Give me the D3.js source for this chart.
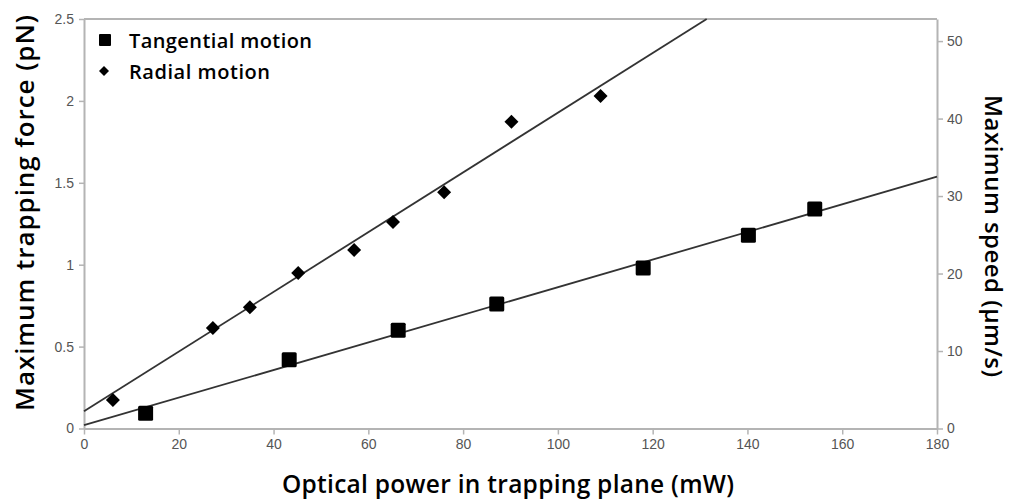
<!DOCTYPE html>
<html>
<head>
<meta charset="utf-8">
<script src="https://cdn.jsdelivr.net/npm/d3@7"></script>
<style>
  body { margin: 0; background: #fff; }
  svg { display: block; }
</style>
</head>
<body>
<div id="chart"></div>
<script>
// data
var xTicks = [0, 20, 40, 60, 80, 100, 120, 140, 160, 180];
var yTicks = [0, 0.5, 1, 1.5, 2, 2.5];
var y2Ticks = [0, 10, 20, 30, 40, 50];

var tangPower = [13, 43.3, 66.3, 87.1, 118, 140.2, 154.2];
var tangForce = [0.093, 0.42, 0.60, 0.76, 0.98, 1.18, 1.34];

var radPower = [6.1, 27.2, 35, 45.2, 57, 65.2, 76, 90.2, 109];
var radForce = [0.174, 0.613, 0.74, 0.95, 1.09, 1.26, 1.443, 1.873, 2.03];

// fitted lines, end points [power, force]
var tangFit = [[0, 0.02], [180, 1.537]];
var radFit = [[0, 0.105], [131.4, 2.5]];

var width = 1011, height = 499;
var mLeft = 84, mRight = 937, mTop = 19, mBottom = 428.5;
var axisColor = "#b4b4b4";
var tickColor = "#555";

var svg = d3.select("#chart").append("svg")
  .attr("width", width)
  .attr("height", height);

var x = d3.scaleLinear().domain([0, 180]).range([mLeft, mRight]);
var y = d3.scaleLinear().domain([0, 2.5]).range([mBottom, mTop]);
var y2 = d3.scaleLinear().domain([0, 52.85]).range([mBottom, mTop]);

// frame: top line
svg.append("line")
  .attr("x1", mLeft).attr("x2", mRight)
  .attr("y1", mTop).attr("y2", mTop)
  .attr("stroke", axisColor).attr("stroke-width", 2);

function styleAxis(g) {
  g.select(".domain").attr("stroke", axisColor).attr("stroke-width", 2);
  g.selectAll(".tick line").attr("stroke", axisColor).attr("stroke-width", 1.5);
  g.selectAll(".tick text")
    .attr("fill", tickColor)
    .style("font-family", "'Liberation Sans', Arial, sans-serif")
    .style("font-size", "14px");
}

svg.append("g")
  .attr("transform", "translate(0," + mBottom + ")")
  .call(d3.axisBottom(x).tickValues(xTicks).tickSize(6).tickSizeOuter(0).tickPadding(5))
  .call(styleAxis);

svg.append("g")
  .attr("transform", "translate(" + mLeft + ",0)")
  .call(d3.axisLeft(y).tickValues(yTicks).tickSize(5).tickSizeOuter(0).tickPadding(5)
    .tickFormat(d3.format("")))
  .call(styleAxis);

svg.append("g")
  .attr("transform", "translate(" + mRight + ",0)")
  .call(d3.axisRight(y2).tickValues(y2Ticks).tickSize(6).tickSizeOuter(0).tickPadding(4))
  .call(styleAxis);

// fit lines
var line = d3.line().x(d => x(d[0])).y(d => y(d[1]));
[tangFit, radFit].forEach(function(f) {
  svg.append("path")
    .attr("d", line(f))
    .attr("fill", "none")
    .attr("stroke", "#333")
    .attr("stroke-width", 1.8);
});

// points
var sq = 15;
svg.append("g").selectAll("rect")
  .data(d3.range(tangPower.length))
  .join("rect")
  .attr("x", i => x(tangPower[i]) - sq / 2)
  .attr("y", i => y(tangForce[i]) - sq / 2)
  .attr("width", sq).attr("height", sq)
  .attr("rx", 1.5)
  .attr("fill", "#000");

var dm = 7;
svg.append("g").selectAll("path")
  .data(d3.range(radPower.length))
  .join("path")
  .attr("transform", i => "translate(" + x(radPower[i]) + "," + y(radForce[i]) + ")")
  .attr("d", "M0," + (-dm) + "L" + dm + ",0L0," + dm + "L" + (-dm) + ",0Z")
  .attr("fill", "#000");

// legend
var titleFont = "'Open Sans', 'Noto Sans', sans-serif";
svg.append("rect")
  .attr("x", 99).attr("y", 34).attr("width", 12).attr("height", 12)
  .attr("rx", 1).attr("fill", "#000");
svg.append("path")
  .attr("transform", "translate(104,71)")
  .attr("d", "M0,-5L5,0L0,5L-5,0Z")
  .attr("fill", "#000");
svg.append("text")
  .attr("x", 129).attr("y", 48)
  .attr("textLength", 183)
  .style("font-family", titleFont).style("font-weight", 600).style("font-size", "20px")
  .text("Tangential motion");
svg.append("text")
  .attr("x", 129).attr("y", 79)
  .attr("textLength", 141)
  .style("font-family", titleFont).style("font-weight", 600).style("font-size", "20px")
  .text("Radial motion");

// axis titles
svg.append("text")
  .attr("x", 508).attr("y", 493)
  .attr("text-anchor", "middle")
  .attr("textLength", 452)
  .style("font-family", titleFont).style("font-weight", 600).style("font-size", "24.5px")
  .text("Optical power in trapping plane (mW)");

svg.append("text")
  .attr("transform", "translate(34,213) rotate(-90)")
  .attr("text-anchor", "middle")
  .attr("textLength", 396)
  .style("font-family", titleFont).style("font-weight", 600).style("font-size", "26px")
  .text("Maximum trapping force (pN)");

svg.append("text")
  .attr("transform", "translate(985,236) rotate(90)")
  .attr("text-anchor", "middle")
  .attr("textLength", 282)
  .style("font-family", titleFont).style("font-weight", 600).style("font-size", "24px")
  .text("Maximum speed (µm/s)");
</script>
</body>
</html>
